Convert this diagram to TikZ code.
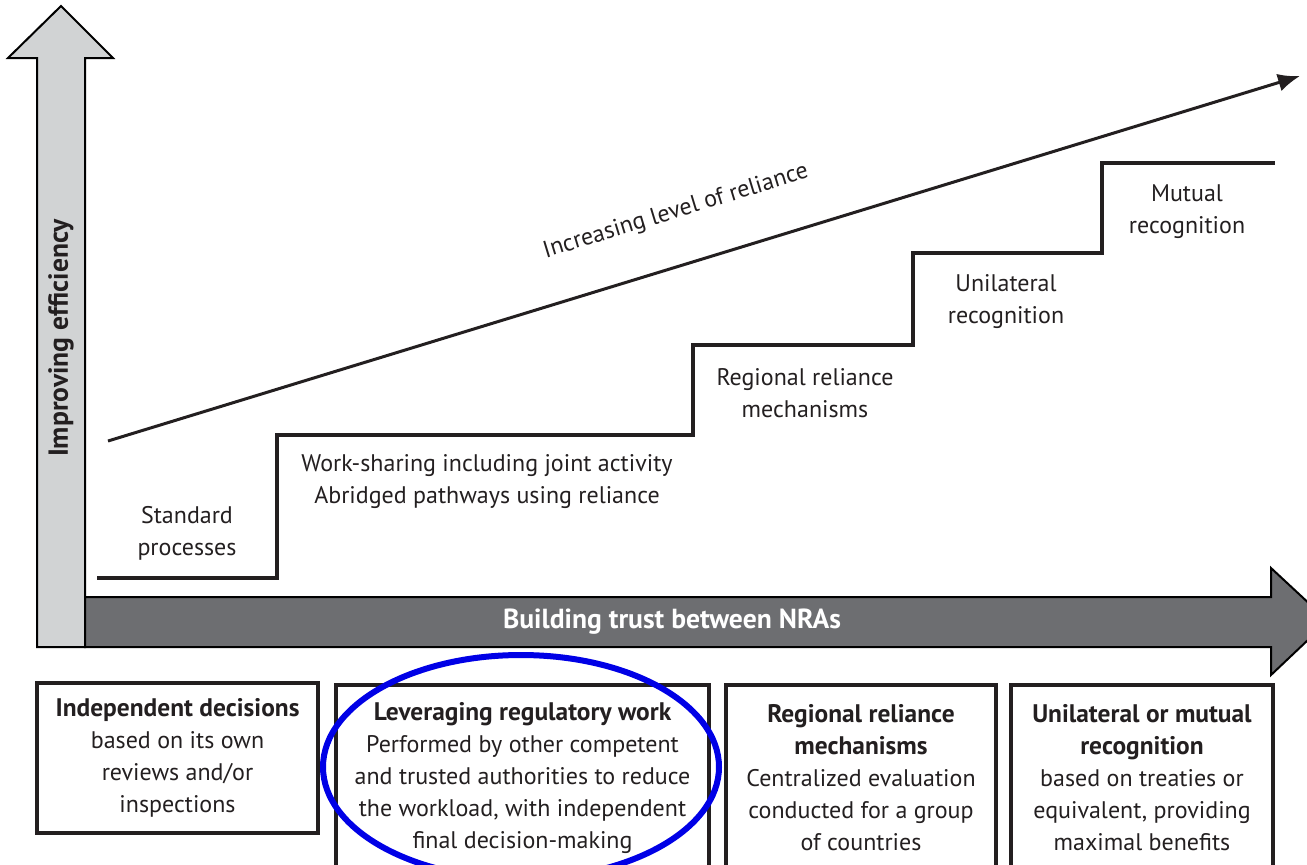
\documentclass[tikz,border=0pt]{standalone}
\usepackage{fontspec}
\setmainfont{PT Sans}
\usetikzlibrary{positioning,arrows.meta,shapes.geometric}

\definecolor{shaftgrey}{HTML}{D1D3D4}
\definecolor{bargrey}{HTML}{6D6E71}
\definecolor{ringblue}{HTML}{0000E6}
\definecolor{inkgrey}{HTML}{231F20}

\newcommand{\boxhead}[1]{{\fontsize{12.7}{16}\selectfont\bfseries #1}}

\begin{document}
\begin{tikzpicture}[x=0.5pt, y=-0.5pt,
    lbl/.style={align=center, inner sep=0pt, text=inkgrey,
      font=\fontsize{12}{16}\selectfont},
    arrowlbl/.style={inner sep=0pt, font=\fontsize{13.8}{16}\selectfont\bfseries},
    stepbox/.style={draw=inkgrey, line width=2pt, align=center, inner sep=0pt,
      text=inkgrey, font=\fontsize{12}{16}\selectfont},
    bigarrow/.style={draw=black, line width=1pt, line join=miter}]
  \useasboundingbox (0,0) rectangle (1307,864);
  \clip (0,0) rectangle (1307,864);
  % big block arrows
  \draw[bigarrow, fill=shaftgrey] (37,647) -- (37,58) -- (8,58) -- (61,6)
    -- (113,58) -- (85,58) -- (85,647) -- cycle;
  \draw[bigarrow, fill=bargrey] (85,597) -- (1271,597) -- (1271,568) -- (1328,621)
    -- (1271,675) -- (1271,647) -- (85,647) -- cycle;
  \node[arrowlbl, rotate=90, text=inkgrey] (effic) at (61,338) {Improving efficiency};
  \node[arrowlbl, text=white] (trust) at (672,622) {Building trust between NRAs};
  % staircase of reliance
  \draw[inkgrey, line width=2pt] (97,578) -| (277,435) -| (693,345) -| (913,253)
    -| (1102,163) -- (1275,163);
  \node[lbl] (std) at (187,533) {Standard\\processes};
  \node[lbl] (work) at (487,482) {Work-sharing including joint activity\\Abridged pathways using reliance};
  \node[lbl] (regl) at (805,393) {Regional reliance\\mechanisms};
  \node[lbl] (unil) at (1006,302) {Unilateral\\recognition};
  \node[lbl] (mutl) at (1187,212) {Mutual\\recognition};
  % rising arrow
  \coordinate (rlow) at (108,441);
  \coordinate (rhigh) at (1300,76);
  \draw[inkgrey, line width=1.5pt, -{Latex[length=11pt,width=9pt]}] (rlow) -- (rhigh);
  \node[lbl, rotate=17] (incr) at (676,212) {Increasing level of reliance};
  % boxes below
  \node[stepbox, minimum width=140.5pt, minimum height=75pt] (indep) at (177.5,758)
    {\boxhead{Independent decisions}\\based on its own\\reviews and/or\\inspections};
  \node[stepbox, minimum width=186.5pt, minimum height=93pt] (lever) at (522.5,778)
    {\boxhead{Leveraging regulatory work}\\Performed by other competent\\and trusted authorities to reduce\\the workload, with independent\\final decision-making};
  \node[stepbox, minimum width=135pt, minimum height=93pt] (region) at (861,778)
    {\boxhead{Regional reliance}\\\boxhead{mechanisms}\\Centralized evaluation\\conducted for a group\\of countries};
  \node[stepbox, minimum width=131pt, minimum height=93pt] (recog) at (1142,778)
    {\boxhead{Unilateral or mutual}\\\boxhead{recognition}\\based on treaties or\\equivalent, providing\\maximal benefits};
  % highlight
  \node[draw=ringblue, ellipse, line width=3pt, minimum width=198pt, minimum height=112pt] (ring) at (521,767) {};
\end{tikzpicture}
\end{document}
